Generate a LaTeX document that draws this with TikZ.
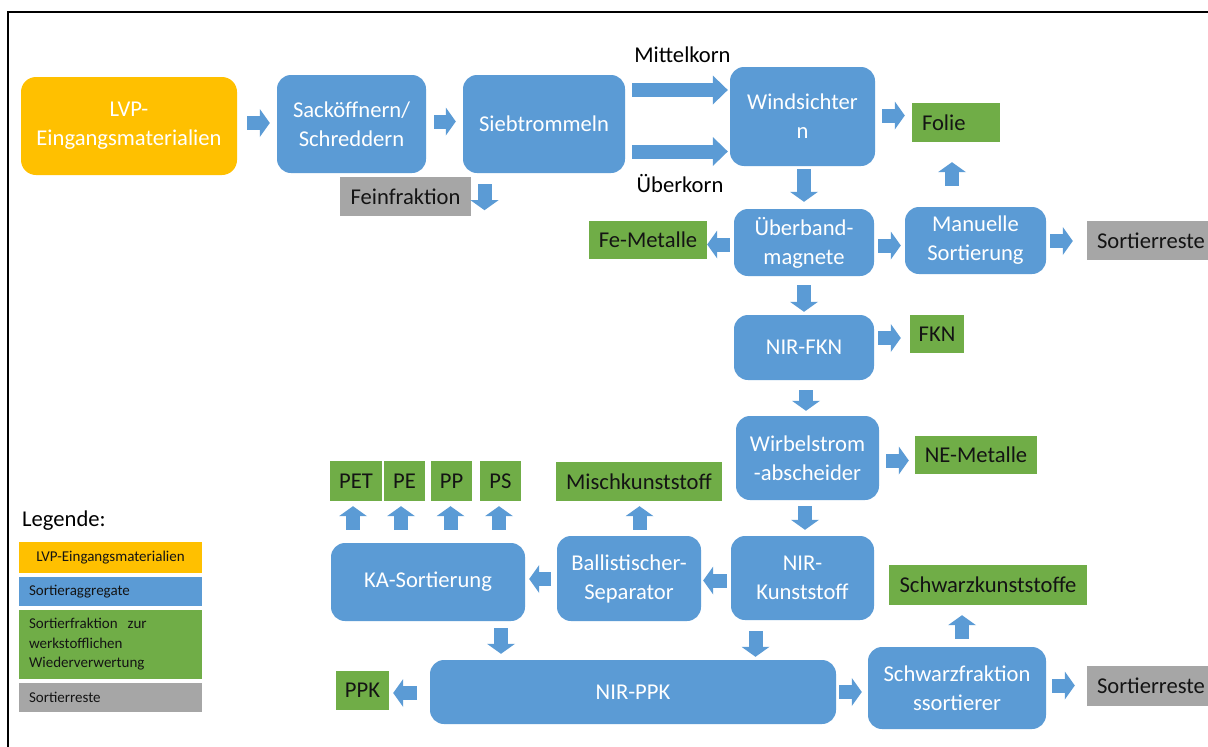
\documentclass[tikz,border=0pt]{standalone}
\usepackage{fontspec}
\setmainfont{Carlito}
\usetikzlibrary{arrows.meta}
\definecolor{ablue}{HTML}{5B9BD5}
\definecolor{aorange}{HTML}{FFC000}
\definecolor{agreen}{HTML}{70AD47}
\definecolor{agray}{HTML}{A6A6A6}
\definecolor{dtext}{HTML}{141414}
\begin{document}
\begin{tikzpicture}[x=1pt,y=-1pt,
  base/.style={inner sep=0pt, align=center, font=\fontsize{22.6}{29}\selectfont},
  sz/.style 2 args={minimum width=#1pt, minimum height=#2pt},
  proc/.style={base, fill=ablue, text=white, rounded corners=14pt},
  inp/.style={base, fill=aorange, text=white, rounded corners=15pt},
  frac/.style={base, fill=agreen, text=dtext},
  restbox/.style={base, fill=agray, text=dtext},
  lbl/.style={base, text=black},
  leftbox/.style={inner xsep=10pt, align=left},
  barrow/.style={line width=14pt, draw=ablue, -{Triangle[width=28pt,length=10pt,line width=0pt]}},
  longarrow/.style={line width=14pt, draw=ablue, -{Triangle[width=29pt,length=15pt,line width=0pt]}},
  legbox/.style={inner sep=0pt, font=\fontsize{15}{19.5}\selectfont, text=dtext},
]
\useasboundingbox (0,0) rectangle (1208,747);
\fill[white] (0,0) rectangle (1208,747);
% frame
\draw[line width=1.5pt] (8,800) -- (8,12) -- (1260,12);

% nodes
\node[inp, sz={216}{98}] (lvp) at (129,126) {LVP-\\Eingangsmaterialien};
\node[proc, sz={149}{98}] (sack) at (351.5,124) {Sacköffnern/\\Schreddern};
\node[proc, sz={162}{98}] (sieb) at (544,124) {Siebtrommeln};
\node[restbox, sz={131}{39}] (fein) at (405.5,196.5) {Feinfraktion};
\node[lbl] (mittel) at (682.5,55) {Mittelkorn};
\node[lbl] (ueberk) at (680,184) {Überkorn};
\node[proc, sz={145}{99}] (wind) at (802.5,116.5) {Windsichter\\n};
\node[frac, sz={88}{39}, leftbox, text width=68pt] (folie) at (956,122.5) {Folie};
\node[proc, sz={140}{67}] (ueberb) at (804,242.5) {Überband-\\magnete};
\node[frac, sz={118}{38}] (fe) at (648,240) {Fe-Metalle};
\node[proc, sz={141}{67}] (manuell) at (975.5,240.5) {Manuelle\\Sortierung};
\node[restbox, sz={130}{39}, leftbox, text width=110pt] (rest1) at (1152,240.5) {Sortierreste};
\node[proc, sz={140}{65}] (nirfkn) at (804,347.5) {NIR-FKN};
\node[frac, sz={54}{38}] (fkn) at (937,334) {FKN};
\node[proc, sz={143}{84}] (wirbel) at (807.5,458) {Wirbelstrom\\-abscheider};
\node[frac, sz={122}{38}] (ne) at (976,455) {NE-Metalle};
\node[proc, sz={143}{84}] (nirk) at (802.5,578) {NIR-\\Kunststoff};
\node[proc, sz={144}{85}] (ball) at (629,578.5) {Ballistischer-\\Separator};
\node[proc, sz={194}{78}] (ka) at (428,582) {KA-Sortierung};
\node[frac, sz={52}{40}] (pet) at (356,481) {PET};
\node[frac, sz={41}{40}] (pe) at (404.5,481) {PE};
\node[frac, sz={41}{40}] (pp) at (451.5,481) {PP};
\node[frac, sz={41}{40}] (ps) at (500.5,481) {PS};
\node[frac, sz={166}{39}] (misch) at (639,481.5) {Mischkunststoff};
\node[frac, sz={198}{40}] (schwk) at (988,585) {Schwarzkunststoffe};
\node[proc, sz={406}{64}] (nirppk) at (633,692) {NIR-PPK};
\node[frac, sz={53}{39}] (ppk) at (362.5,690.5) {PPK};
\node[proc, sz={178}{82}] (schwf) at (957,688) {Schwarzfraktion\\ssortierer};
\node[restbox, sz={130}{40}, leftbox, text width=110pt] (rest2) at (1152,686) {Sortierreste};

% legend
\node[lbl, anchor=west] (leg) at (22,521) {Legende:};
\node[legbox, fill=aorange, sz={183}{31}] (l1) at (110.5,557.5) {LVP-Eingangsmaterialien};
\node[legbox, fill=ablue, sz={183}{29}, leftbox, text width=163pt] (l2) at (110.5,591.5) {Sortieraggregate};
\node[legbox, fill=agreen, sz={183}{69}, leftbox, text width=163pt] (l3) at (110.5,644.5) {Sortierfraktion~ zur\\werkstofflichen\\Wiederverwertung};
\node[legbox, fill=agray, sz={183}{29}, leftbox, text width=163pt] (l4) at (110.5,697.5) {Sortierreste};

% connectors
\draw[barrow, shorten <=10pt, shorten >=7pt] (lvp.east |- 0,123) -- (sack.west |- 0,123);
\draw[barrow, shorten <=8pt, shorten >=7pt] (sack.east |- 0,121.5) -- (sieb.west |- 0,121.5);
\draw[barrow, shorten <=11pt, shorten >=6pt] (484.5,0 |- sieb.south) -- (484.5,0 |- fein.south);
\draw[longarrow, shorten <=7pt, shorten >=2pt] (sieb.east |- 0,90) -- (wind.west |- 0,90);
\draw[longarrow, shorten <=7pt, shorten >=2pt] (sieb.east |- 0,151.5) -- (wind.west |- 0,151.5);
\draw[barrow, shorten <=7pt, shorten >=7pt] (wind.east |- 0,115.5) -- (folie.west |- 0,115.5);
\draw[barrow, shorten <=3pt, shorten >=7pt] (804,0 |- wind.south) -- (804,0 |- ueberb.north);
\draw[barrow, shorten <=4pt, shorten >=0pt] (ueberb.west |- 0,244.5) -- (fe.east |- 0,244.5);
\draw[barrow, shorten <=4pt, shorten >=4pt] (ueberb.east |- 0,245.5) -- (manuell.west |- 0,245.5);
\draw[barrow, shorten <=21pt, shorten >=20pt] (952,0 |- manuell.north) -- (952,0 |- folie.south);
\draw[barrow, shorten <=4pt, shorten >=14pt] (manuell.east |- 0,241) -- (rest1.west |- 0,241);
\draw[barrow, shorten <=9pt, shorten >=3pt] (804,0 |- ueberb.south) -- (804,0 |- nirfkn.north);
\draw[barrow, shorten <=4pt, shorten >=9pt] (nirfkn.east |- 0,338) -- (fkn.west |- 0,338);
\draw[barrow, shorten <=10pt, shorten >=5pt] (806,0 |- nirfkn.south) -- (806,0 |- wirbel.north);
\draw[barrow, shorten <=7pt, shorten >=6pt] (wirbel.east |- 0,460.5) -- (ne.west |- 0,460.5);
\draw[barrow, shorten <=6pt, shorten >=6pt] (805,0 |- wirbel.south) -- (805,0 |- nirk.north);
\draw[barrow, shorten <=4pt, shorten >=2pt] (nirk.west |- 0,580.5) -- (ball.east |- 0,580.5);
\draw[barrow, shorten <=6pt, shorten >=5pt] (639.5,0 |- ball.north) -- (639.5,0 |- misch.south);
\draw[barrow, shorten <=6pt, shorten >=4pt] (ball.west |- 0,579) -- (ka.east |- 0,579);
\draw[barrow, shorten <=13pt, shorten >=5pt] (353,0 |- ka.north) -- (353,0 |- pet.south);
\draw[barrow, shorten <=13pt, shorten >=5pt] (401,0 |- ka.north) -- (401,0 |- pe.south);
\draw[barrow, shorten <=13pt, shorten >=5pt] (450.5,0 |- ka.north) -- (450.5,0 |- pp.south);
\draw[barrow, shorten <=13pt, shorten >=5pt] (499,0 |- ka.north) -- (499,0 |- ps.south);
\draw[barrow, shorten <=7pt, shorten >=6pt] (501,0 |- ka.south) -- (501,0 |- nirppk.north);
\draw[barrow, shorten <=11pt, shorten >=3pt] (755.5,0 |- nirk.south) -- (755.5,0 |- nirppk.north);
\draw[barrow, shorten <=13pt, shorten >=4pt] (nirppk.west |- 0,693) -- (ppk.east |- 0,693);
\draw[barrow, shorten <=3pt, shorten >=6pt] (nirppk.east |- 0,692) -- (schwf.west |- 0,692);
\draw[barrow, shorten <=8pt, shorten >=10pt] (962,0 |- schwf.north) -- (962,0 |- schwk.south);
\draw[barrow, shorten <=6pt, shorten >=12pt] (schwf.east |- 0,685.5) -- (rest2.west |- 0,685.5);
\end{tikzpicture}
\end{document}
